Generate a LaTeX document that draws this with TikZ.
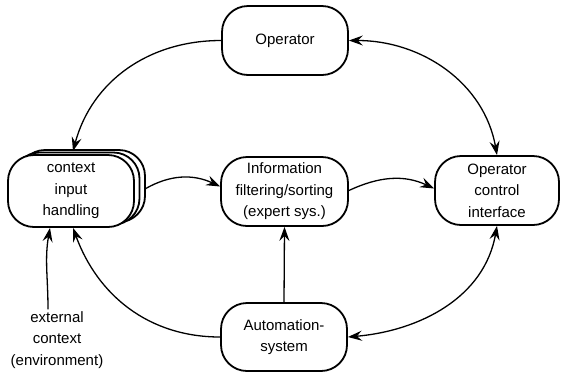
\documentclass[tikz,border=0pt]{standalone}
\usepackage{fontspec}
\setmainfont{Liberation Sans}
\usetikzlibrary{arrows.meta,shadows}

\begin{document}
\begin{tikzpicture}[x=1pt,y=1pt,
  block/.style={draw,fill=white,line width=1.8pt,rounded corners=26pt,
    align=center,inner sep=0pt,minimum width=126pt,minimum height=69pt},
  stack/.style={copy shadow={shadow xshift=11pt,shadow yshift=5pt,draw=black,fill=white,line width=1.8pt},
    copy shadow={shadow xshift=5.5pt,shadow yshift=2.5pt,draw=black,fill=white,line width=1.8pt}},
  flow/.style={line width=1.3pt,-{Stealth[length=14pt,width=10pt,inset=5pt]}},
  both/.style={line width=1.3pt,{Stealth[length=14pt,width=10pt,inset=5pt]}-{Stealth[length=14pt,width=10pt,inset=5pt]}},
  font=\fontsize{15}{21.5}\selectfont]
\useasboundingbox (0,0) rectangle (561,-373);

\node[block] (op) at (285,-40.5) {Operator};
\node[block,stack,minimum height=72pt] (ctx) at (71,-191) {context\\input\\handling};
\node[block,minimum width=127pt] (info) at (284.5,-191.5) {Information\\filtering/sorting\\(expert sys.)};
\node[block,minimum width=124pt] (oci) at (497,-190.5) {Operator\\control\\interface};
\node[block,minimum height=68pt] (auto) at (284,-337) {Automation-\\system};
\node[align=center,inner sep=2pt] (ext) at (57,-340) {external\\context\\(environment)};

\draw[flow] (op.west) to[out=180,in=75] ([xshift=2pt,yshift=3pt]ctx.north);
\draw[both] (op.east) to[out=0,in=100] (oci.north);
\draw[flow] ([xshift=10pt,yshift=2pt]ctx.east) to[out=30,in=155] ([yshift=5pt]info.west);
\draw[flow] ([yshift=1pt]info.east) to[out=25,in=155] ([yshift=2pt]oci.west);
\draw[flow] (auto.north) -- (info.south);
\draw[flow] (auto.west) to[out=180,in=-70] ([xshift=2pt]ctx.south);
\draw[both] (auto.east) to[out=5,in=-100] (oci.south);
\draw[flow] ([xshift=-9pt]ext.north) to[out=90,in=-100] ([xshift=-21pt]ctx.south);
\end{tikzpicture}
\end{document}
